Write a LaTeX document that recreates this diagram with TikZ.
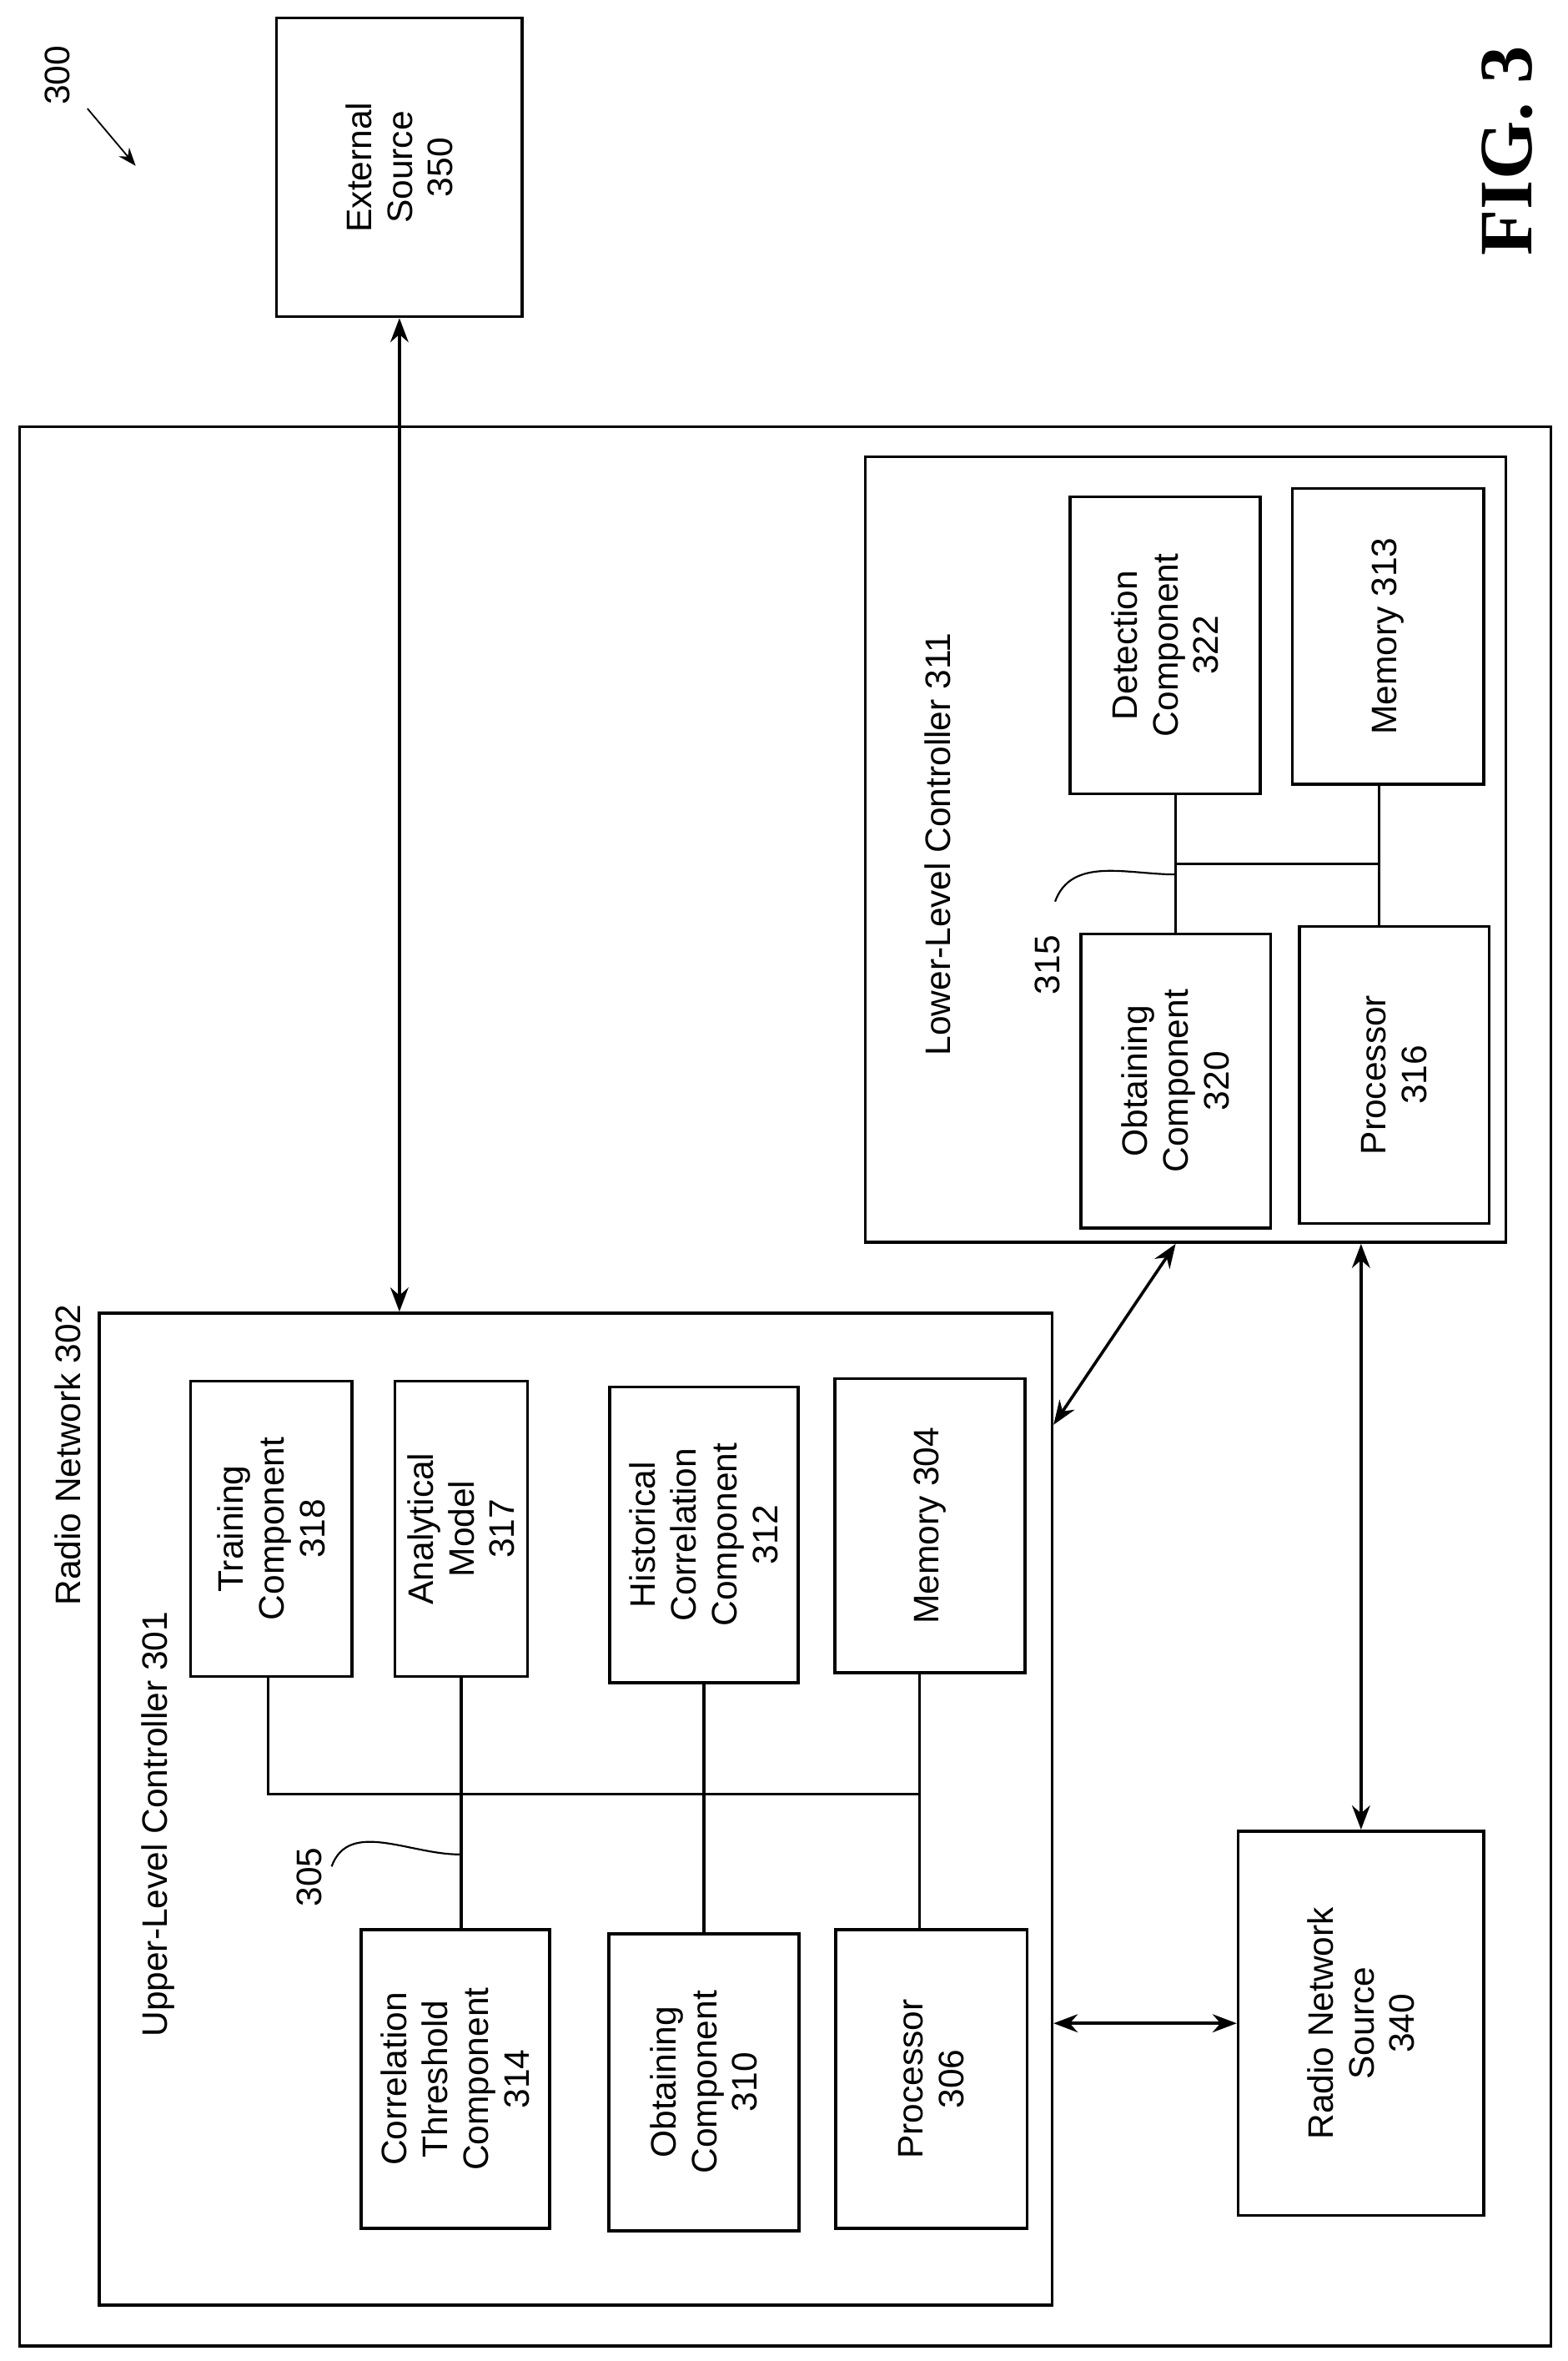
\documentclass[tikz,border=0pt]{standalone}
\usepackage{fontspec}
\setmainfont{Liberation Sans}
\newfontfamily\figfont{Liberation Serif}
\usetikzlibrary{arrows.meta}
\begin{document}
\begin{tikzpicture}[x=1pt,y=-1pt,
    line width=2pt,
    font=\fontsize{23.5}{27}\selectfont,
    blk/.style = {draw, rotate=90, align=center, inner sep=2pt},
    area/.style = {draw, anchor=north west, inner sep=0pt},
    lbl/.style = {rotate=90, inner sep=0pt},
    dbl/.style = {{Stealth[length=16pt,width=12pt]}-{Stealth[length=16pt,width=12pt]}}
  ]
  \useasboundingbox (0,0) rectangle (1040,1566);
  % Figure number and reference.
  \node[lbl, font=\figfont\bfseries\fontsize{50}{56}\selectfont] (fig) at (1000,100) {FIG. 3};
  \node[lbl] (ref) at (38,50) {300};
  \coordinate (reftip) at (90,110);
  \draw[-{Stealth[length=12pt]}, line width=1pt] (58,72) -- (reftip);
  % Outer boxes.
  \node[area, minimum width=1016pt, minimum height=1273pt] (rn) at (12,282) {};
  \node[lbl] (rnlbl) at (45,965) {Radio Network 302};
  \node[blk, minimum width=198pt, minimum height=163pt] (ext) at (265,111) {External\\Source\\350};
  \node[area, minimum width=632pt, minimum height=658pt] (ulc) at (65,870) {};
  \node[lbl] (ulclbl) at (105,1210) {Upper-Level Controller 301};
  \node[area, minimum width=425pt, minimum height=521pt] (llc) at (573,302) {};
  \node[lbl] (llclbl) at (622,560) {Lower-Level Controller 311};
  \node[blk, minimum width=255pt, minimum height=163pt] (rns) at (903,1342) {Radio Network\\Source\\340};
  % Upper-level controller.
  \node[blk, minimum width=196pt, minimum height=107pt] (trn) at (180,1014) {Training\\Component\\318};
  \node[blk, minimum width=196pt, minimum height=88pt] (ana) at (306,1014) {Analytical\\Model\\317};
  \node[blk, minimum width=196pt, minimum height=125pt] (his) at (467,1018) {Historical\\Correlation\\Component\\312};
  \node[blk, minimum width=195pt, minimum height=126pt] (mem) at (617,1012) {Memory 304};
  \node[blk, minimum width=198pt, minimum height=125pt] (cth) at (302,1379) {Correlation\\Threshold\\Component\\314};
  \node[blk, minimum width=197pt, minimum height=126pt] (obt) at (467,1381) {Obtaining\\Component\\310};
  \node[blk, minimum width=198pt, minimum height=127pt] (pro) at (618,1379) {Processor\\306};
  \coordinate (busL) at (178,1190);
  \coordinate (busR) at (610,1190);
  \draw (trn.west -| busL) -- (busL) -- (busR);
  \draw (ana.west) -- (ana.west |- cth.east);
  \draw (his.west) -- (his.west |- obt.east);
  \draw (mem.west -| busR) -- (busR |- pro.east);
  \node[lbl] (bus1) at (205,1245) {305};
  \draw[line width=1.2pt] (220,1238) to[out=70, in=180] (305,1230);
  % Lower-level controller.
  \node[blk, minimum width=197pt, minimum height=126pt] (det) at (773,428) {Detection\\Component\\322};
  \node[blk, minimum width=196pt, minimum height=127pt] (mem2) at (921,422) {Memory 313};
  \node[blk, minimum width=195pt, minimum height=126pt] (obt2) at (780,717) {Obtaining\\Component\\320};
  \node[blk, minimum width=197pt, minimum height=126pt] (pro2) at (925,713) {Processor\\316};
  \coordinate (bus2L) at (780,573);
  \coordinate (bus2R) at (915,573);
  \draw (det.west -| bus2L) -- (bus2L |- obt2.east);
  \draw (mem2.west -| bus2R) -- (bus2R |- pro2.east);
  \draw (bus2L) -- (bus2R);
  \node[lbl] (bus2) at (695,640) {315};
  \draw[line width=1.2pt] (700,598) to[out=70, in=180] (780,580);
  % Links.
  \draw[dbl] (ext.west) -- (ext.west |- ulc.north);
  \draw[dbl] (ulc.north east |- 0,945) -- (llc.south -| 780,0);
  \draw[dbl] (llc.south -| rns.east) -- (rns.east);
  \draw[dbl] (ulc.east |- rns.north) -- (rns.north);
\end{tikzpicture}
\end{document}
